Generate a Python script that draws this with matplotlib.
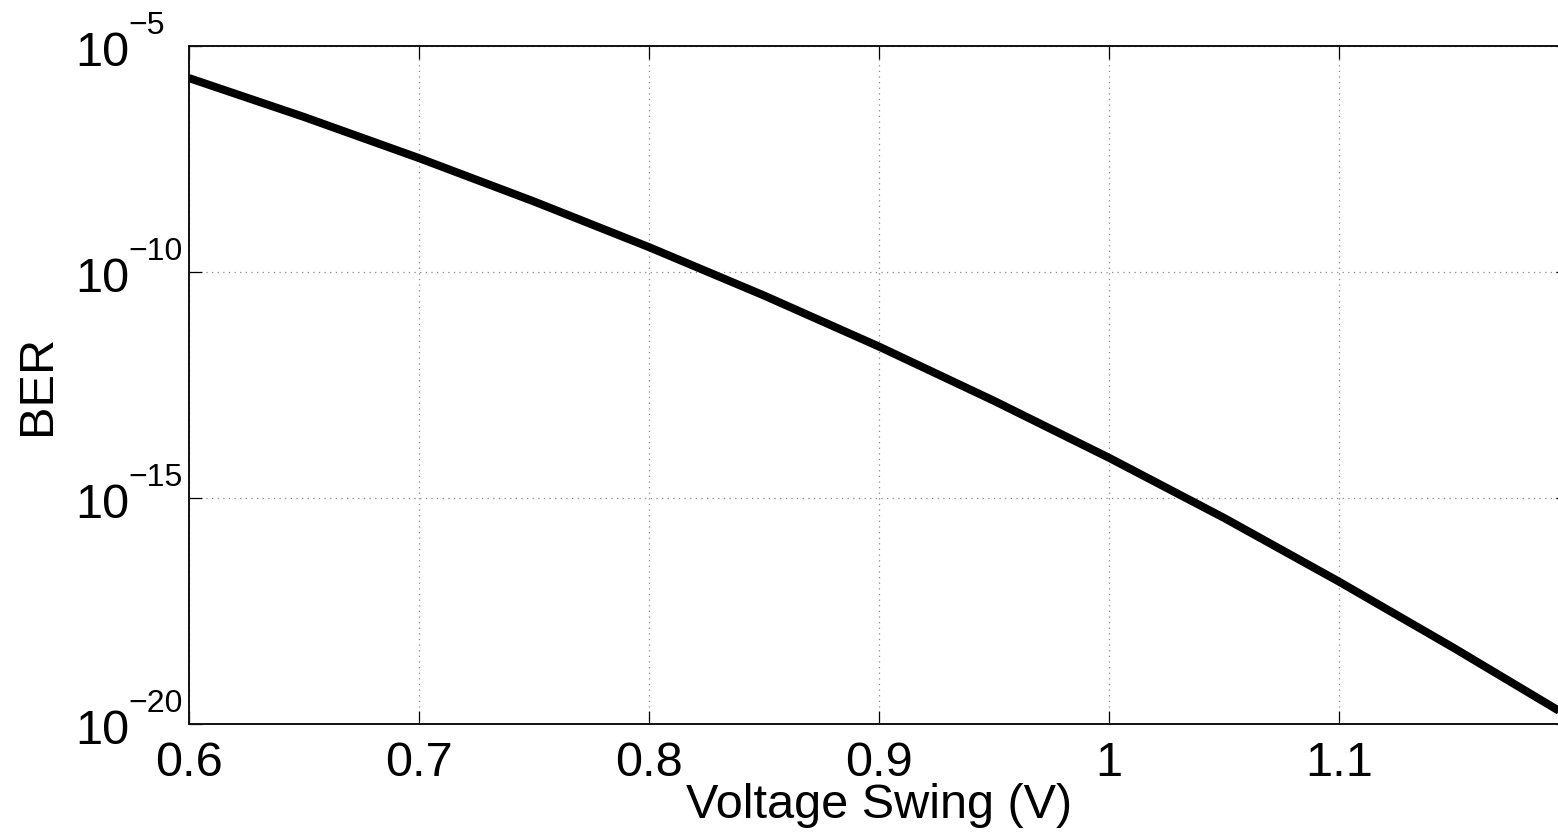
import matplotlib.pyplot as plt
import matplotlib.transforms as mtransforms
from matplotlib.ticker import NullLocator

# values (log10 of BER)
voltage = [0.60, 0.65, 0.70, 0.75, 0.80, 0.85, 0.90, 0.95, 1.00, 1.05, 1.10, 1.15, 1.20]
log_ber = [-5.71, -6.57, -7.48, -8.44, -9.45, -10.52, -11.65, -12.85, -14.11, -15.44, -16.85, -18.32, -19.84]
ber = [10 ** v for v in log_ber]

xticks = [0.6, 0.7, 0.8, 0.9, 1.0, 1.1]
xtick_labels = ['0.6', '0.7', '0.8', '0.9', '1', '1.1']
ytick_exps = [-20, -15, -10, -5]

plt.rcParams['font.family'] = ['Liberation Sans', 'DejaVu Sans']

W, H = 1558, 832
fig = plt.figure(figsize=(W / 100, H / 100), dpi=100)
# axes runs a little past the right edge of the picture (cropped like the original)
ax = fig.add_axes([189 / W, (H - 724) / H, 1380 / W, 678 / H])

ax.plot(voltage, ber, color='black', linewidth=5.8, solid_capstyle='butt',
        solid_joinstyle='round')
ax.set_yscale('log')
ax.set_xlim(0.6, 1.2)
ax.set_ylim(1e-20, 1e-5)

ax.set_xticks(xticks)
ax.set_xticklabels(xtick_labels)
ax.set_yticks([10.0 ** e for e in ytick_exps])
ax.set_yticklabels([''] * len(ytick_exps))
ax.yaxis.set_minor_locator(NullLocator())

ax.grid(True, linestyle=(0, (1, 3.5)), color='#888888', linewidth=0.9)
ax.tick_params(direction='in', length=9.4, width=0.9, labelsize=35,
               top=True, right=True)
ax.tick_params(axis='x', pad=12)
for s in ax.spines.values():
    s.set_linewidth(1.4)
    s.set_color('#111111')

# MATLAB style y tick labels: "10" with a raised exponent
trans = mtransforms.blended_transform_factory(fig.transFigure, ax.transData)
base_tr = mtransforms.offset_copy(trans, fig=fig, x=0, y=-19.5, units='dots')
exp_tr = mtransforms.offset_copy(trans, fig=fig, x=0, y=12, units='dots')
for e in ytick_exps:
    ax.text(75 / W, 10.0 ** e, '10', transform=base_tr, ha='left', va='baseline',
            fontsize=35, clip_on=False)
    ax.text(128 / W, 10.0 ** e, '\u2212' + str(-e), transform=exp_tr, ha='left',
            va='baseline', fontsize=23, clip_on=False)

fig.text(879 / W, 1 - 818 / H, 'Voltage Swing (V)', ha='center', va='baseline',
         fontsize=35)
fig.text(37 / W, 1 - 385 / H, 'BER', ha='center', va='center', rotation=90,
         fontsize=35)

fig.savefig('out.png', dpi=100)
